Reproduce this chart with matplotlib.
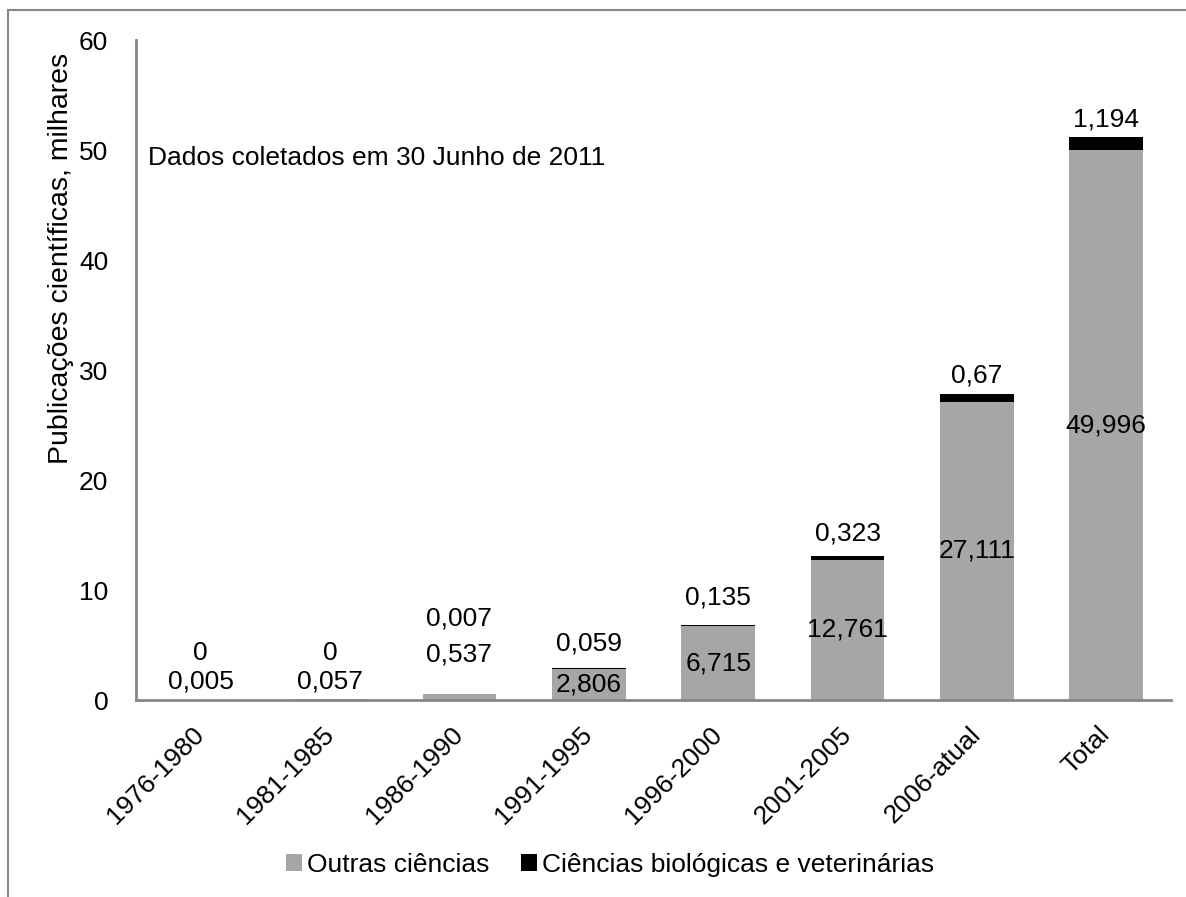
import matplotlib
matplotlib.use("Agg")
import matplotlib.pyplot as plt
from matplotlib.lines import Line2D

periodos = ["1976-1980", "1981-1985", "1986-1990", "1991-1995",
            "1996-2000", "2001-2005", "2006-atual", "Total"]
outras = [0.005, 0.057, 0.537, 2.806, 6.715, 12.761, 27.111, 49.996]
biologicas = [0, 0, 0.007, 0.059, 0.135, 0.323, 0.67, 1.194]
rotulo_outras = ["0,005", "0,057", "0,537", "2,806", "6,715", "12,761", "27,111", "49,996"]
rotulo_bio = ["0", "0", "0,007", "0,059", "0,135", "0,323", "0,67", "1,194"]

# deslocamento (px) dos rotulos, para nao se sobreporem nas barras pequenas
sobe_outras = [18, 18, 43, 0, 0, 0, 0, 0]
sobe_bio = [47, 46, 76, 25, 27, 23, 19, 17]

CINZA = "#a6a6a6"
EIXO = "#868686"
FS = 19

plt.rcParams["font.family"] = ["Liberation Sans", "DejaVu Sans"]

fig = plt.figure(figsize=(11.86, 8.97), dpi=100)
ax = fig.add_axes([136 / 1186, 1 - 700 / 897, (1171 - 136) / 1186, 660 / 897])

x = range(len(periodos))
ax.bar(x, outras, width=0.57, color=CINZA, label="Outras ciências")
ax.bar(x, biologicas, width=0.57, bottom=outras, color="black",
       label="Ciências biológicas e veterinárias")

for i in x:
    ax.annotate(rotulo_outras[i], (i, outras[i] / 2), xytext=(0, sobe_outras[i]),
                textcoords="offset pixels", ha="center", va="center", fontsize=FS)
    ax.annotate(rotulo_bio[i], (i, outras[i] + biologicas[i]), xytext=(0, sobe_bio[i]),
                textcoords="offset pixels", ha="center", va="center", fontsize=FS)

ax.set_xlim(-0.5, len(periodos) - 0.5)
ax.set_ylim(0, 60)
ax.set_yticks(range(0, 61, 10))
ax.set_xticks(list(x))
ax.set_xticklabels(periodos, rotation=45, ha="right", va="center",
                   rotation_mode="anchor", fontsize=FS)
ax.tick_params(axis="both", length=0, labelsize=FS)
ax.tick_params(axis="x", pad=22)
ax.tick_params(axis="y", pad=20)
for s in ["top", "right"]:
    ax.spines[s].set_visible(False)
for s in ["left", "bottom"]:
    ax.spines[s].set_color(EIXO)
    ax.spines[s].set_linewidth(2)

fig.text(61 / 1186, 1 - 258 / 897, "Publicações científicas, milhares",
         rotation=90, fontsize=20.5, ha="center", va="center")
fig.text(148 / 1186, 1 - 158 / 897, "Dados coletados em 30 Junho de 2011",
         fontsize=FS, ha="left", va="center")

ax.legend(loc="center", bbox_to_anchor=(610 / 1186, 1 - 865 / 897),
          bbox_transform=fig.transFigure, ncol=2, frameon=False, fontsize=FS,
          handlelength=0.6, handleheight=0.6, handletextpad=0.2,
          columnspacing=1.2)

# moldura da area do grafico (apenas esquerda e topo)
fig.add_artist(Line2D([8 / 1186, 8 / 1186], [0, 1 - 10 / 897],
                      color=EIXO, linewidth=1.5, transform=fig.transFigure))
fig.add_artist(Line2D([8 / 1186, 1], [1 - 10 / 897, 1 - 10 / 897],
                      color=EIXO, linewidth=1.5, transform=fig.transFigure))

fig.savefig("out.png", dpi=100)
